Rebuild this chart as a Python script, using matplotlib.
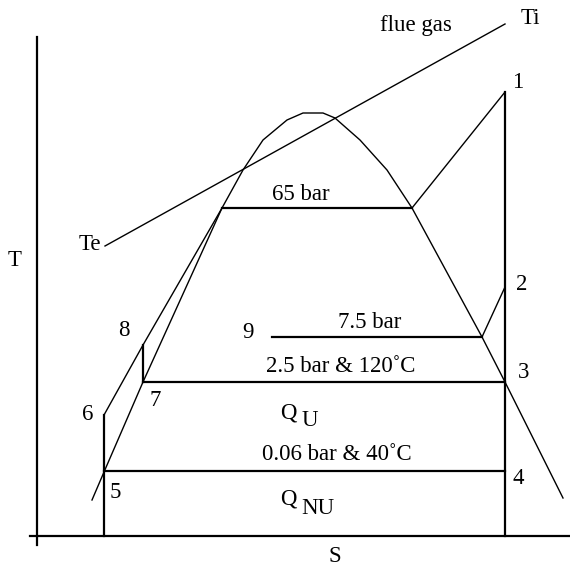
import matplotlib.pyplot as plt

# Schematic T-s diagram of a steam cycle with process heat extraction
# Coordinates are in arbitrary diagram units (s to the right, T upward)

# Saturation dome
dome_s = [92, 104, 143, 222, 243, 263, 287, 303, 323, 335, 360, 387, 412, 482, 505, 563]
dome_T = [73, 101, 191, 365, 403, 433, 453, 460, 460, 455, 433, 403, 365, 236, 191, 75]

# State points of the cycle
points = {
    "1": (505, 481),
    "2": (505, 286),
    "3": (505, 191),
    "4": (505, 102),
    "5": (104, 102),
    "6": (104, 158),
    "7": (143, 191),
    "8": (143, 228),
}
evap_start = (222, 365)    # saturated liquid at 65 bar
evap_end = (412, 365)      # saturated vapour at 65 bar
bleed_end = (482, 236)     # end of 7.5 bar extraction line
bleed_start = (272, 236)

# Flue gas cooling line
gas_s = [105, 505]
gas_T = [327, 549]

fig = plt.figure(figsize=(5.70, 5.73), dpi=100)
ax = fig.add_axes([0, 0, 1, 1])
ax.set_xlim(0, 570)
ax.set_ylim(0, 573)
ax.axis("off")

plt.rcParams["font.family"] = ["Liberation Serif", "DejaVu Serif"]
fs = 16.5
thick = 1.6
thin = 1.0

# Axes of the diagram
ax.plot([37, 37], [28, 536], color="black", lw=thick)
ax.plot([30, 570], [37, 37], color="black", lw=thick)

# Dome
ax.plot(dome_s, dome_T, color="black", lw=thin)

# Flue gas line
ax.plot(gas_s, gas_T, color="black", lw=thin)

p = points
# Feed water: 5 -> 6 -> 8 -> 7, and 8 up to the evaporator
ax.plot([p["5"][0], p["6"][0]], [37, p["6"][1]], color="black", lw=thick)
ax.plot([p["6"][0], p["8"][0], evap_start[0]], [p["6"][1], p["8"][1], evap_start[1]],
        color="black", lw=thin)
ax.plot([p["8"][0], p["7"][0]], [p["8"][1], p["7"][1]], color="black", lw=thick)

# Evaporation at 65 bar and superheating to 1
ax.plot([evap_start[0], evap_end[0]], [evap_start[1], evap_end[1]], color="black", lw=thick)
ax.plot([evap_end[0], p["1"][0]], [evap_end[1], p["1"][1]], color="black", lw=thin)

# Turbine expansion 1 -> 4 and down to the s-axis
ax.plot([p["1"][0], p["1"][0]], [37, p["1"][1]], color="black", lw=thick)

# Extraction at 7.5 bar
ax.plot([p["2"][0], bleed_end[0]], [p["2"][1], bleed_end[1]], color="black", lw=thin)
ax.plot([bleed_start[0], bleed_end[0]], [bleed_start[1], bleed_end[1]], color="black", lw=thick)

# Condensation lines
ax.plot([p["7"][0], p["3"][0]], [p["7"][1], p["3"][1]], color="black", lw=thick)
ax.plot([p["5"][0], p["4"][0]], [p["5"][1], p["4"][1]], color="black", lw=thick)

# Labels
labels = [
    ("1", 518, 490), ("2", 522, 288), ("3", 524, 200), ("4", 518, 95),
    ("5", 115, 81), ("6", 88, 158), ("7", 155, 173), ("8", 124, 243), ("9", 248, 241),
    ("T", 15, 313), ("S", 335, 16), ("Ti", 530, 555), ("flue gas", 416, 548),
    ("65 bar", 301, 378), ("7.5 bar", 370, 251),
    ("2.5 bar & 120˚C", 341, 207), ("0.06 bar & 40˚C", 337, 118),
    ("Q", 288, 160), ("U", 310, 153), ("Q", 288, 74), ("NU", 318, 64),
]
for txt, x, y in labels:
    ax.text(x, y, txt, fontsize=fs, ha="center", va="center")
ax.text(101, 328, "Te", fontsize=fs, ha="right", va="center")

fig.savefig("out.png", dpi=100)
